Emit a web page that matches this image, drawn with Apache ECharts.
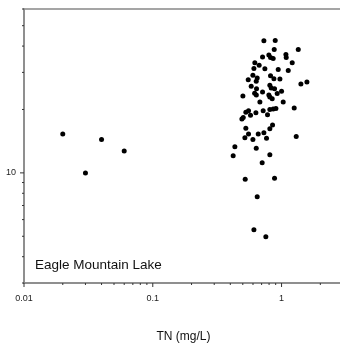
<!DOCTYPE html>
<html><head><meta charset="utf-8">
<script src="https://cdn.jsdelivr.net/npm/echarts@6/dist/echarts.min.js"></script>
<style>html,body{margin:0;padding:0;background:#fff}#c{width:340px;height:350px}</style>
</head><body><div id="c"></div>
<script>
// TN (mg/L) values
const tnValues = [0.02,0.03,0.04,0.06,
0.729,0.893,0.877,1.348,0.712,0.797,0.821,0.861,1.081,1.087,1.210,0.620,0.670,0.610,0.742,0.942,1.127,0.599,0.647,0.551,0.636,0.821,0.872,0.971,0.581,0.639,0.811,0.831,0.882,1.000,0.925,1.413,1.574,0.501,0.618,0.637,0.712,0.797,0.811,0.846,1.030,0.679,0.528,0.554,0.492,0.504,0.574,0.632,0.720,0.778,0.811,0.861,0.904,1.254,0.528,0.811,0.851,0.554,0.519,0.599,0.659,0.729,0.764,1.300,0.434,0.636,0.421,0.811,0.707,0.522,0.882,0.647,0.610,0.755];
// Y values (log scale)
const yValues = [15.3,10.0,14.4,12.7,
42.4,42.5,38.5,38.5,35.5,36.3,35.3,34.9,36.5,35.3,33.3,33.3,32.4,31.3,31.2,31.0,30.6,29.1,28.2,27.7,27.2,28.9,28.0,27.9,25.8,25.1,26.1,25.3,25.1,24.4,23.8,26.4,27.0,23.2,23.9,23.4,24.2,23.4,22.9,22.5,21.7,21.7,19.4,19.7,18.0,18.3,18.8,19.3,19.7,18.9,20.0,20.1,20.2,20.3,16.3,16.2,16.9,15.3,14.7,14.4,15.3,15.5,14.6,14.9,13.3,13.1,12.05,12.2,11.16,9.33,9.43,7.71,5.37,4.97];
const xTickValues = [0.01,0.02,0.03,0.04,0.05,0.06,0.07,0.08,0.09,0.1,0.2,0.3,0.4,0.5,0.6,0.7,0.8,0.9,1,2,3];
const yTickValues = [3,4,5,6,7,8,9,10,20,30,40,50,60];
const xLabelTicks = ['0.01','0.1','1'];
const yLabelTicks = ['10'];
const xMin = 0.01, xMax = 3, yMin = 3, yMax = 60;
const lakeName = 'Eagle Mountain Lake';
const xName = 'TN (mg/L)';

function isPow10(v){const l=Math.log10(v);return Math.abs(l-Math.round(l))<1e-6;}
function fmt(v){return String(Number(v.toPrecision(6)));}

const chart = echarts.init(document.getElementById('c'));
const font = 'Liberation Sans, Arial, sans-serif';
chart.setOption({
  animation:false,
  backgroundColor:'#fff',
  title:{text:lakeName,left:35,top:258,padding:0,textStyle:{fontSize:13.5,fontWeight:'normal',color:'#111',fontFamily:font}},
  grid:{left:24,top:9,width:319,bottom:67,containLabel:false,outerBoundsMode:'none',show:true,borderColor:'#888',borderWidth:1.5,backgroundColor:'transparent'},
  xAxis:{type:'log',logBase:10,min:xMin,max:xMax,
    axisLine:{lineStyle:{color:'#888',width:1.5}},axisTick:{show:false},splitLine:{show:false},minorTick:{show:false},
    axisLabel:{fontSize:9,color:'#222',margin:11,fontFamily:font,
      formatter:v=>{const s=fmt(v);return xLabelTicks.includes(s)?s:'';}},
    name:xName,nameLocation:'middle',nameGap:48,nameTextStyle:{fontSize:12,color:'#111',fontFamily:font}},
  yAxis:{type:'log',logBase:10,min:yMin,max:yMax,
    axisLine:{lineStyle:{color:'#888',width:1.5}},axisTick:{show:false},splitLine:{show:false},minorTick:{show:false},
    axisLabel:{fontSize:9,color:'#222',margin:8,fontFamily:font,
      formatter:v=>{const s=fmt(v);return yLabelTicks.includes(s)?s:'';}}},
  series:[
    {type:'scatter',data:tnValues.map((x,i)=>[x,yValues[i]]),symbol:'circle',symbolSize:5,itemStyle:{color:'#000',opacity:1},z:3},
    {type:'custom',silent:true,clip:false,data:xTickValues.map(v=>[v,yMin]),encode:{x:0,y:1},z:4,
      renderItem:(p,api)=>{const v=api.value(0);const c=api.coord([v,yMin]);const len=isPow10(v)?4:2;
        return {type:'line',shape:{x1:c[0],y1:c[1],x2:c[0],y2:c[1]+len},style:{stroke:'#333',lineWidth:1}};}},
    {type:'custom',silent:true,clip:false,data:yTickValues.map(v=>[xMin,v]),encode:{x:0,y:1},z:4,
      renderItem:(p,api)=>{const v=api.value(1);const c=api.coord([xMin,v]);const len=isPow10(v)?4:2;
        return {type:'line',shape:{x1:c[0],y1:c[1],x2:c[0]-len,y2:c[1]},style:{stroke:'#333',lineWidth:1}};}}
  ]
});
</script></body></html>
